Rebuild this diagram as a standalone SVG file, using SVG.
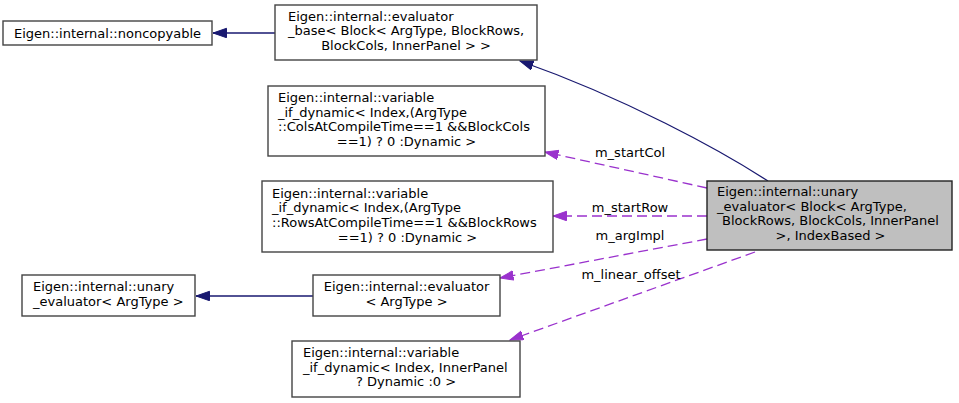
<svg xmlns="http://www.w3.org/2000/svg" width="959" height="403" viewBox="0 0 959 403">
<defs>
<style>
text{font-family:"DejaVu Sans","Liberation Sans",sans-serif;font-size:13px;fill:#000}
.m{text-anchor:middle}
.box{fill:#fff;stroke:#444;stroke-width:1.4}
.main{fill:#bfbfbf;stroke:#222;stroke-width:1.4}
.inh{fill:none;stroke:#191970;stroke-width:1.3}
.use{fill:none;stroke:#9a32cd;stroke-width:1.3;stroke-dasharray:10,5}
</style>
<marker id="an" markerUnits="userSpaceOnUse" markerWidth="15" markerHeight="12" refX="13.5" refY="5" orient="auto">
<path d="M0,0.3 L13.5,5 L0,9.7 z" fill="#191970" stroke="#191970" stroke-width="1"/>
</marker>
<marker id="ap" markerUnits="userSpaceOnUse" markerWidth="15" markerHeight="12" refX="13.5" refY="5" orient="auto">
<path d="M0,0.3 L13.5,5 L0,9.7 z" fill="#9a32cd" stroke="#9a32cd" stroke-width="1"/>
</marker>
</defs>
<g id="connectors">
<path class="inh" d="M275,33 L213,33" marker-end="url(#an)"/>
<path class="inh" d="M768,181 C720,150 625,98 520,61" marker-end="url(#an)"/>
<path class="inh" d="M313,296 L196,296" marker-end="url(#an)"/>
<path class="use" d="M707,188 L545,152" marker-end="url(#ap)"/>
<text class="m" x="630" y="157">m_startCol</text>
<path class="use" d="M707,216 L553,216" marker-end="url(#ap)"/>
<text class="m" x="630" y="212">m_startRow</text>
<path class="use" d="M707,239 L500,278" marker-end="url(#ap)"/>
<text class="m" x="630" y="240">m_argImpl</text>
<path class="use" d="M755,252 L510,340" marker-end="url(#ap)"/>
<text class="m" x="631" y="279">m_linear_offset</text>
</g>
<g id="node_noncopyable">
<rect class="box" x="3" y="21" width="209" height="24"/>
<text class="m" x="107.5" y="37.5">Eigen::internal::noncopyable</text>
</g>
<g id="node_evaluator_base">
<rect class="box" x="275" y="5" width="262" height="55"/>
<text x="288" y="20.6">Eigen::internal::evaluator</text>
<text x="288" y="35.3">_base&lt; Block&lt; ArgType, BlockRows,</text>
<text class="m" x="406" y="50">BlockCols, InnerPanel &gt; &gt;</text>
</g>
<g id="node_var_cols">
<rect class="box" x="268" y="86" width="277" height="70"/>
<text x="278" y="102">Eigen::internal::variable</text>
<text x="278" y="116.6">_if_dynamic&lt; Index,(ArgType</text>
<text x="278" y="131.3">::ColsAtCompileTime==1 &amp;&amp;BlockCols</text>
<text class="m" x="406.5" y="146">==1) ? 0 :Dynamic &gt;</text>
</g>
<g id="node_var_rows">
<rect class="box" x="262" y="181" width="291" height="71"/>
<text x="272" y="197.6">Eigen::internal::variable</text>
<text x="272" y="212.3">_if_dynamic&lt; Index,(ArgType</text>
<text x="272" y="227">::RowsAtCompileTime==1 &amp;&amp;BlockRows</text>
<text class="m" x="407.5" y="242">==1) ? 0 :Dynamic &gt;</text>
</g>
<g id="node_main">
<rect class="main" x="707" y="181" width="245" height="69"/>
<text x="717" y="196">Eigen::internal::unary</text>
<text x="717" y="210.6">_evaluator&lt; Block&lt; ArgType,</text>
<text class="m" x="830.5" y="225.3">BlockRows, BlockCols, InnerPanel</text>
<text class="m" x="830.5" y="240">&gt;, IndexBased &gt;</text>
</g>
<g id="node_unary_argtype">
<rect class="box" x="22" y="275" width="173" height="41"/>
<text x="33" y="291.3">Eigen::internal::unary</text>
<text x="33" y="306">_evaluator&lt; ArgType &gt;</text>
</g>
<g id="node_evaluator_argtype">
<rect class="box" x="313" y="275" width="187" height="41"/>
<text class="m" x="406.5" y="291.3">Eigen::internal::evaluator</text>
<text class="m" x="406.5" y="306">&lt; ArgType &gt;</text>
</g>
<g id="node_var_inner">
<rect class="box" x="292" y="341" width="228" height="56"/>
<text x="303" y="357">Eigen::internal::variable</text>
<text x="303" y="371.6">_if_dynamic&lt; Index, InnerPanel</text>
<text class="m" x="406" y="386.3">? Dynamic :0 &gt;</text>
</g>
</svg>
